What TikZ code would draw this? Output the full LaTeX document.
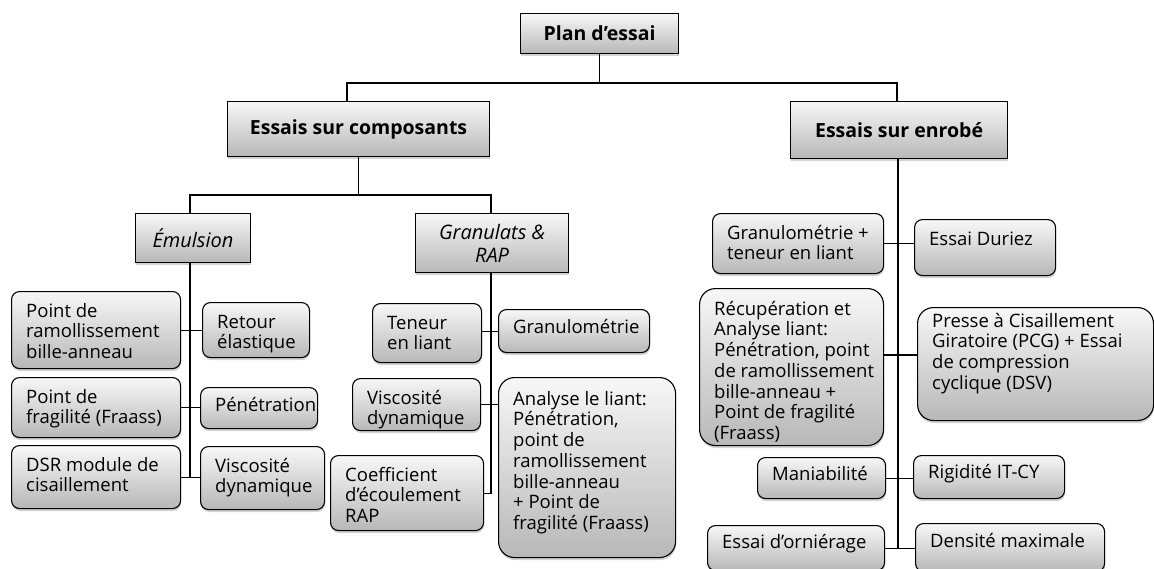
\documentclass[tikz,border=0pt]{standalone}
\usepackage{fontspec}
\setmainfont{Open Sans}
\usetikzlibrary{shadows,calc}
\tikzset{
 boxbase/.style={draw=black, line width=1.1pt, top color=black!3, bottom color=black!28,
   drop shadow={shadow xshift=0.5pt, shadow yshift=-2.5pt, opacity=0.35}},
 topbox/.style={boxbase, inner sep=0pt, font=\fontsize{19.5}{23}\selectfont\bfseries, align=center, anchor=north west},
 midbox/.style={boxbase, inner sep=0pt, font=\fontsize{20}{23}\selectfont\itshape, align=center, anchor=north west},
 leaf/.style={boxbase, rounded corners=8pt, inner sep=0pt},
 bigleaf/.style={leaf, rounded corners=16pt},
 txt/.style={inner sep=0pt, align=left, font=\fontsize{18.5}{20.7}\selectfont},
 conn/.style={draw=black, line width=1.1pt},
}
% [style]{name}{x0}{y0}{x1}{y1}{first baseline offset}{text}
\newcommand\mybox[8][leaf]{%
 \node[#1, minimum width={#5-#3}, minimum height={#6-#4}, anchor=north west] (#2) at (#3,#4) {};
 \node[txt, anchor=north west] (#2t) at ({#3+15},#4) {\rule{0pt}{#7pt}#8};}
\begin{document}
\begin{tikzpicture}[x=1pt,y=-1pt]
\useasboundingbox (0,0) rectangle (1154,568);
% top levels
\node[topbox, minimum width=158, minimum height=40] (P) at (520,13) {Plan d’essai};
\node[topbox, minimum width=262, minimum height=55] (C) at (227,101) {Essais sur composants};
\node[topbox, minimum width=217, minimum height=57] (E) at (790,101) {Essais sur enrobé};
\node[midbox, minimum width=115, minimum height=49] (Em) at (135,213) {Émulsion};
\node[midbox, minimum width=153, minimum height=59] (G) at (415,213) {Granulats \&\\RAP};
% emulsion leaves
\mybox{L1}{11}{291}{180}{368}{26}{Point de\\ramollissement\\bille-anneau}
\mybox{L2}{202}{302}{309}{357}{26}{Retour\\élastique}
\mybox{L3}{11}{377}{180}{437}{26}{Point de\\fragilité (Fraass)}
\mybox{L4}{200}{387}{317}{428}{24}{Pénétration}
\mybox{L5}{11}{445}{180}{508}{26}{DSR module de\\cisaillement}
\mybox{L6}{200}{446}{324}{509}{26}{Viscosité\\dynamique}
% granulats leaves
\mybox{G1}{372}{303}{481}{362}{26}{Teneur\\en liant}
\mybox{G2}{498}{309}{649}{352}{24}{Granulométrie}
\mybox{G3}{352}{378}{480}{430}{26}{Viscosité\\dynamique}
\mybox[bigleaf]{G4}{498}{377}{675}{557}{28}{Analyse le liant:\\Pénétration,\\point de\\ramollissement\\bille-anneau\\+ Point de\\fragilité (Fraass)}
\mybox{G5}{330}{455}{483}{530}{26}{Coefficient\\d’écoulement\\RAP}
% enrobe leaves
\mybox{E1}{712}{213}{883}{273}{26}{Granulométrie +\\teneur en liant}
\mybox{E2}{914}{219}{1055}{275}{26}{Essai Duriez}
\mybox[bigleaf]{E3}{699}{288}{883}{445}{27}{Récupération et\\Analyse liant:\\Pénétration, point\\de ramollissement\\bille-anneau +\\Point de fragilité\\(Fraass)}
\mybox[bigleaf]{E4}{917}{307}{1153}{420}{20}{Presse à Cisaillement\\Giratoire (PCG) + Essai\\de compression\\cyclique (DSV)}
\mybox{E5}{757}{457}{885}{498}{23}{Maniabilité}
\mybox{E6}{913}{455}{1064}{498}{23}{Rigidité IT-CY}
\mybox{E7}{707}{525}{884}{570}{23}{Essai d’orniérage}
\mybox{E8}{915}{523}{1104}{571}{24}{Densité maximale}
% connectors
\coordinate (h1) at (347,83);
\coordinate (h2) at (897,83);
\coordinate (h3) at (190,195);
\coordinate (h4) at (491,195);
\coordinate (r2) at (898,355);
\draw[conn] (P.south) -- (P.south |- h1);
\draw[conn] (C.north -| h1) -- (h1) -- (h2) -- (E.north -| h2);
\draw[conn] (C.south) -- (C.south |- h3);
\draw[conn] (Em.north -| h3) -- (h3) -- (h4) -- (G.north -| h4);
\draw[conn] (Em.south -| h3) -- (h3 |- L5.east);
\draw[conn] (L1.east) -- (L1.east -| L2.west);
\draw[conn] (L3.east) -- (L3.east -| L4.west);
\draw[conn] (L5.east) -- (L5.east -| L6.west);
\draw[conn] (G.south -| h4) -- (h4 |- G5.east) -- (G5.east);
\draw[conn] (G1.east |- G2.west) -- (G2.west);
\draw[conn] (G3.east) -- (G3.east -| G4.west);
\draw[conn] (E.south -| r2) -- (r2 |- E7.east);
\draw[conn] (E1.east) -- (E1.east -| E2.west);
\draw[conn] (E3.east |- r2) -- (E4.west |- r2);
\draw[conn] (E5.east) -- (E5.east -| E6.west);
\draw[conn] (E7.east) -- (E7.east -| E8.west);
\end{tikzpicture}
\end{document}
